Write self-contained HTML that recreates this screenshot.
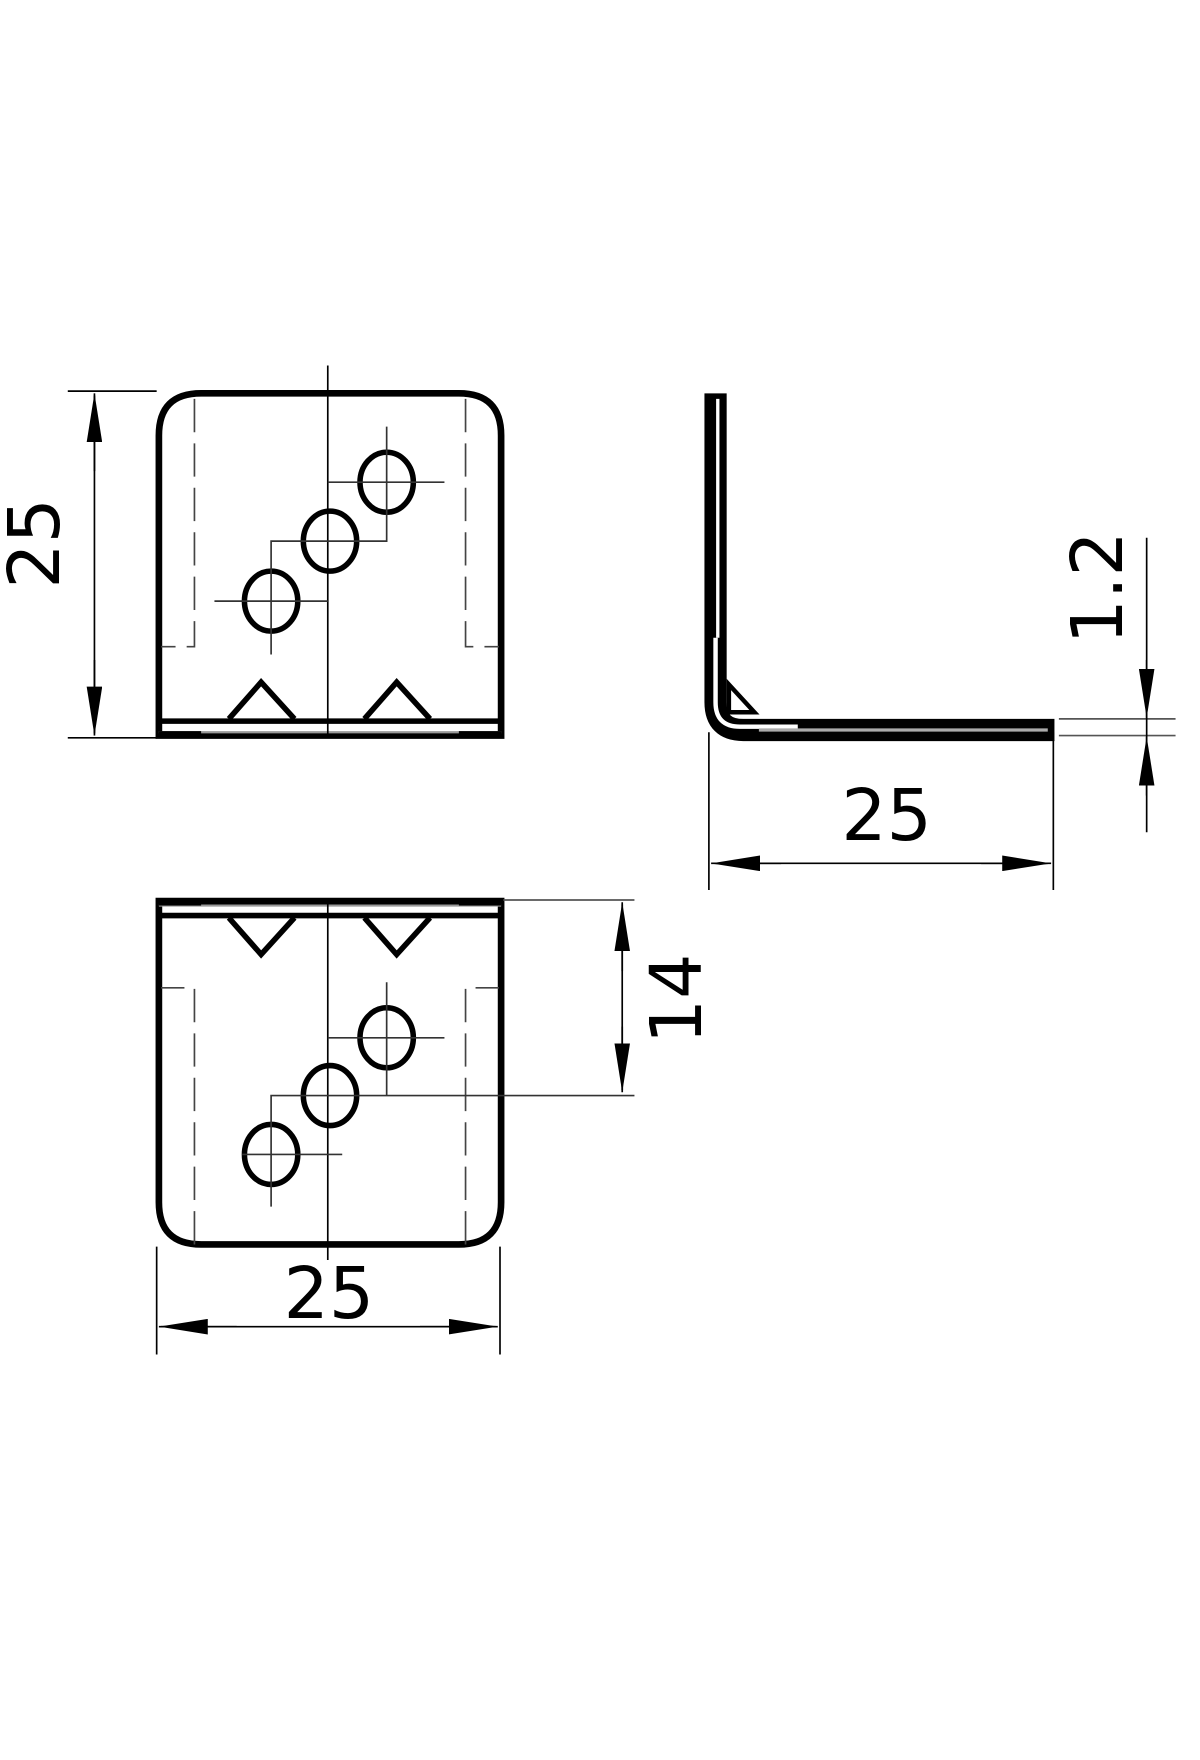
<!DOCTYPE html>
<html><head><meta charset="utf-8"><style>
html,body{margin:0;padding:0;background:#fff;width:1200px;height:1760px;overflow:hidden}
svg{display:block}
text{font-family:"DejaVu Sans","Liberation Sans",sans-serif;fill:#000}
</style></head><body>
<svg width="1200" height="1760" viewBox="0 0 1080 1584" xmlns="http://www.w3.org/2000/svg">
<defs>
<marker id="a" viewBox="0 0 44 14" refX="44" refY="7" markerWidth="44" markerHeight="14" markerUnits="userSpaceOnUse" orient="auto"><path d="M0,0 L44,7 L0,14 Z" fill="#000"/></marker>
</defs>
<g transform="translate(3,4)" fill="none" stroke="#000">
<!-- TOP VIEW -->
<path d="M140,658 V388 Q140,350 178,350 H410 Q448,350 448,388 V658 Z" stroke-width="6"/>
<line x1="140" y1="645" x2="448" y2="645" stroke-width="5"/>
<line x1="140" y1="655" x2="448" y2="655" stroke="#999" stroke-width="2"/>
<rect x="140" y="654" width="38" height="6" fill="#000" stroke="none"/>
<rect x="410" y="654" width="38" height="6" fill="#000" stroke="none"/>
<line x1="292" y1="325" x2="292" y2="660" stroke-width="1.5"/>
<path d="M172,355 V578 H142 M416,355 V578 H446" stroke-width="1.5" stroke-dasharray="30,10" stroke="#444"/>
<path d="M203,643 L232,610 L262,643 M325,643 L354,610 L384,643" stroke-width="5"/>
<ellipse cx="241" cy="537" rx="24" ry="27" stroke-width="5"/>
<ellipse cx="294" cy="483" rx="24" ry="27" stroke-width="5"/>
<ellipse cx="345" cy="430" rx="24" ry="27" stroke-width="5"/>
<path d="M190,537 H292 M241,585 V483 H345 V380 M292,430 H397" stroke-width="1.5" stroke="#333"/>
<path d="M58,348 H138 M58,660 H138" stroke-width="1.5"/>
<line x1="82" y1="420" x2="82" y2="350" stroke-width="1.5" marker-end="url(#a)"/>
<line x1="82" y1="590" x2="82" y2="658" stroke-width="1.5" marker-end="url(#a)"/>
<line x1="82" y1="352" x2="82" y2="656" stroke-width="1.5"/>
<!-- SIDE VIEW -->
<path d="M641,350 V628 Q641,653 666,653 H946" stroke-width="20" stroke-linejoin="miter"/>
<path d="M643,355 V570" stroke="#fff" stroke-width="3"/>
<path d="M641,570 V628 Q641,650 663,650 H715" stroke="#fff" stroke-width="4"/>
<path d="M680,653 H940" stroke="#aaa" stroke-width="3"/>
<path d="M653,612 L676,637 H653 Z" fill="#fff" stroke-width="4"/>
<path d="M635,655 V797 M945,655 V797" stroke-width="1.5"/>
<line x1="700" y1="773" x2="637" y2="773" stroke-width="1.5" marker-end="url(#a)"/>
<line x1="880" y1="773" x2="943" y2="773" stroke-width="1.5" marker-end="url(#a)"/>
<line x1="640" y1="773" x2="940" y2="773" stroke-width="1.5"/>
<path d="M950,643 H1055 M950,658 H1055" stroke-width="1.5" stroke="#555"/>
<line x1="1029" y1="480" x2="1029" y2="745" stroke-width="1.5"/>
<line x1="1029" y1="590" x2="1029" y2="642" stroke-width="1.5" marker-end="url(#a)"/>
<line x1="1029" y1="712" x2="1029" y2="659" stroke-width="1.5" marker-end="url(#a)"/>
<!-- BOTTOM VIEW -->
<path d="M140,807 V1078 Q140,1116 178,1116 H410 Q448,1116 448,1078 V807 Z" stroke-width="6"/>
<line x1="140" y1="820" x2="448" y2="820" stroke-width="5"/>
<line x1="140" y1="811" x2="448" y2="811" stroke="#999" stroke-width="2"/>
<rect x="140" y="805" width="38" height="6" fill="#000" stroke="none"/>
<rect x="410" y="805" width="38" height="6" fill="#000" stroke="none"/>
<line x1="292" y1="805" x2="292" y2="1130" stroke-width="1.5"/>
<path d="M172,1116 V885 H142 M416,1116 V885 H446" stroke-width="1.5" stroke-dasharray="30,10" stroke="#444"/>
<path d="M203,822 L232,855 L262,822 M325,822 L354,855 L384,822" stroke-width="5"/>
<ellipse cx="241" cy="1035" rx="24" ry="27" stroke-width="5"/>
<ellipse cx="294" cy="982" rx="24" ry="27" stroke-width="5"/>
<ellipse cx="345" cy="930" rx="24" ry="27" stroke-width="5"/>
<path d="M215,1035 H305 M241,1082 V982 H568 M345,880 V982 M292,930 H397" stroke-width="1.5" stroke="#333"/>
<path d="M450,806 H568" stroke-width="1.5" stroke="#555"/>
<line x1="557" y1="870" x2="557" y2="808" stroke-width="1.5" marker-end="url(#a)"/>
<line x1="557" y1="920" x2="557" y2="979" stroke-width="1.5" marker-end="url(#a)"/>
<line x1="557" y1="810" x2="557" y2="977" stroke-width="1.5"/>
<path d="M138,1118 V1215 M447,1118 V1215" stroke-width="1.5"/>
<line x1="210" y1="1190" x2="140" y2="1190" stroke-width="1.5" marker-end="url(#a)"/>
<line x1="375" y1="1190" x2="445" y2="1190" stroke-width="1.5" marker-end="url(#a)"/>
<line x1="142" y1="1190" x2="443" y2="1190" stroke-width="1.5"/>
</g>
<g transform="translate(3,4)">
<text x="0" y="0" font-size="64" text-anchor="middle" transform="translate(50,485) rotate(-90)">25</text>
<text x="795" y="752" font-size="64" text-anchor="middle">25</text>
<text x="0" y="0" font-size="64" text-anchor="middle" transform="translate(1007,525) rotate(-90)">1.2</text>
<text x="0" y="0" font-size="64" text-anchor="middle" transform="translate(628,895) rotate(-90)">14</text>
<text x="293" y="1182" font-size="64" text-anchor="middle">25</text>
</g>
</svg>
</body></html>
